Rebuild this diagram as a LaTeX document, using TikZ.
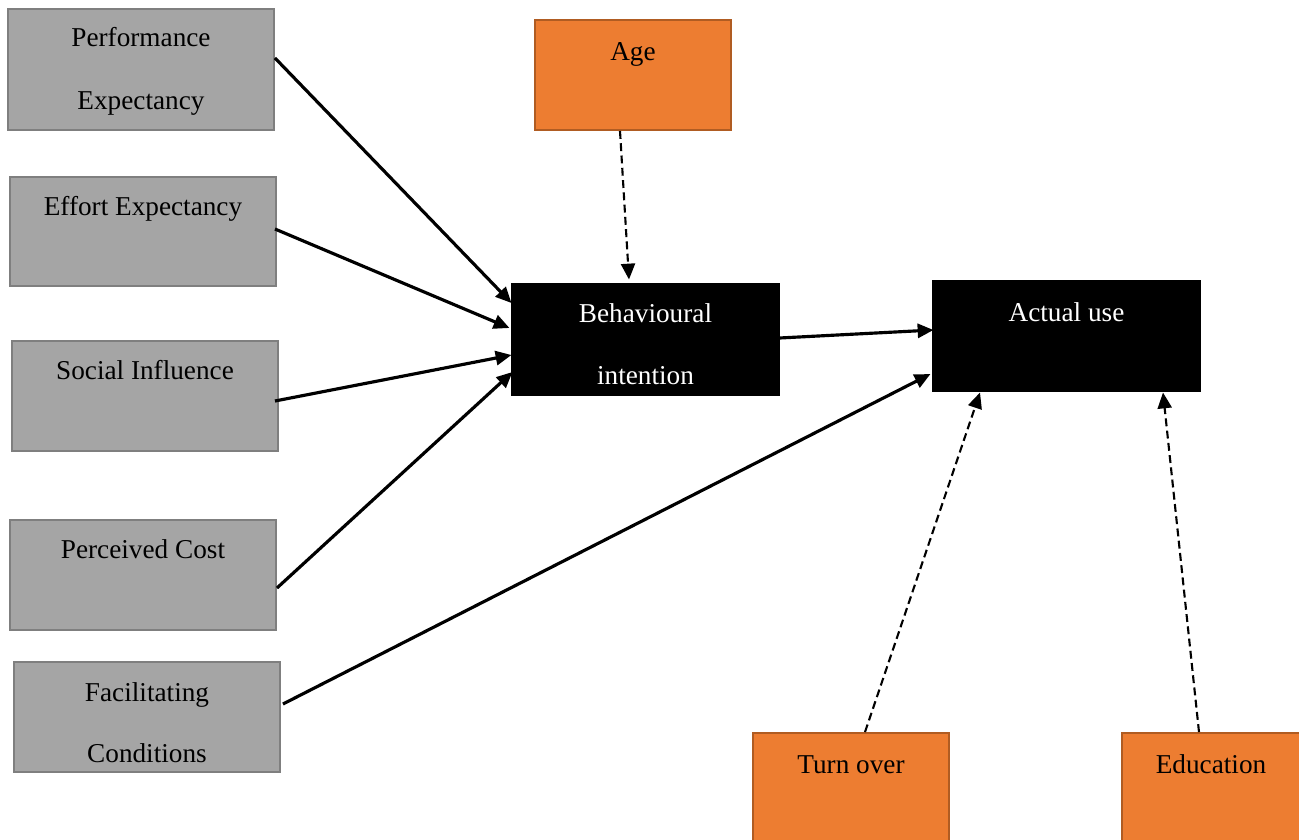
\documentclass[tikz,border=0pt]{standalone}
\usepackage{fontspec}
\setmainfont{Liberation Serif}
\usetikzlibrary{arrows.meta,calc}
\newlength\pxu
\setlength\pxu{0.02cm}
\definecolor{boxgray}{HTML}{A5A5A5}
\definecolor{edgegray}{HTML}{7F7F7F}
\definecolor{boxorange}{HTML}{ED7D31}
\definecolor{edgeorange}{HTML}{B05C22}
\tikzset{
  gbox/.style={draw=edgegray, fill=boxgray, line width=1.1pt, minimum width=266\pxu, minimum height=110\pxu, inner sep=0pt},
  obox/.style={draw=edgeorange, fill=boxorange, line width=1.1pt, minimum width=196\pxu, minimum height=110\pxu, inner sep=0pt},
  kbox/.style={draw=black, fill=black, line width=0.6pt, minimum width=267\pxu, minimum height=110\pxu, inner sep=0pt},
  lbl/.style={anchor=base, inner sep=0pt, font=\fontsize{15.5}{18}\selectfont},
  wlbl/.style={lbl, text=white},
  solidarrow/.style={line width=1.8pt, -{Triangle[length=9pt,width=8pt]}},
  dasharrow/.style={line width=1.2pt, dash pattern=on 4.5pt off 2.5pt, -{Triangle[length=9pt,width=8pt]}},
}
\begin{document}
\begin{tikzpicture}[x=0.02cm, y=-0.02cm]
\useasboundingbox (0,0) rectangle (1299,839);
\clip (0,0) rectangle (1299,839);

% predictor boxes
\node[gbox, minimum height=121\pxu] (pe) at (141,69.5) {};
\node[gbox, minimum height=109\pxu] (ee) at (143,231.5) {};
\node[gbox] (si) at (145,396) {};
\node[gbox] (pc) at (143,575) {};
\node[gbox] (fc) at (147,717) {};

% moderators
\node[obox] (age) at (633,75) {};
\node[obox] (to) at (851,788) {};
\node[obox] (ed) at (1220,788) {};

% outcome boxes
\node[kbox, minimum height=111\pxu] (bi) at (645.5,339.5) {};
\node[kbox] (au) at (1066.5,336) {};

% labels
\node[lbl] (pe1) at ($(pe.north)+(0,38)$) {Performance};
\node[lbl] (pe2) at ($(pe.north)+(0,101)$) {Expectancy};
\node[lbl] (ee1) at ($(ee.north)+(0,39)$) {Effort Expectancy};
\node[lbl] (si1) at ($(si.north)+(0,39)$) {Social Influence};
\node[lbl] (pc1) at ($(pc.north)+(0,39)$) {Perceived Cost};
\node[lbl] (fc1) at ($(fc.north)+(0,40)$) {Facilitating};
\node[lbl] (fc2) at ($(fc.north)+(0,101)$) {Conditions};
\node[lbl] (age1) at ($(age.north)+(0,41)$) {Age};
\node[lbl] (to1) at ($(to.north)+(0,41)$) {Turn over};
\node[lbl] (ed1) at ($(ed.north)+(-9,41)$) {Education};
\node[wlbl] (bi1) at ($(bi.north)+(0,39)$) {Behavioural};
\node[wlbl] (bi2) at ($(bi.north)+(0,101)$) {intention};
\node[wlbl] (au1) at ($(au.north)+(0,41)$) {Actual use};

% direct effects
\draw[solidarrow] ($(pe.east)+(0,-11.5)$) -- ($(bi.west)+(0,-36.5)$);
\draw[solidarrow] ($(ee.east)+(-2,-2.5)$) -- ($(bi.west)+(-2,-11.5)$);
\draw[solidarrow] ($(si.east)+(-4,5)$) -- ($(bi.west)+(0,15.5)$);
\draw[solidarrow] ($(pc.east)+(0,13)$) -- ($(bi.west)+(1,32.5)$);
\draw[solidarrow] ($(fc.east)+(2,-13)$) -- ($(au.west)+(-2,38)$);
\draw[solidarrow] ($(bi.east)+(0,-1.5)$) -- ($(au.west)+(1,-6)$);

% moderating effects
\draw[dasharrow] ($(age.south)+(-13,0)$) -- ($(bi.north)+(-16.5,-4)$);
\draw[dasharrow] ($(to.north)+(14,0)$) -- ($(au.south)+(-86.5,1)$);
\draw[dasharrow] ($(ed.north)+(-21,0)$) -- ($(au.south)+(96.5,1)$);
\end{tikzpicture}
\end{document}
